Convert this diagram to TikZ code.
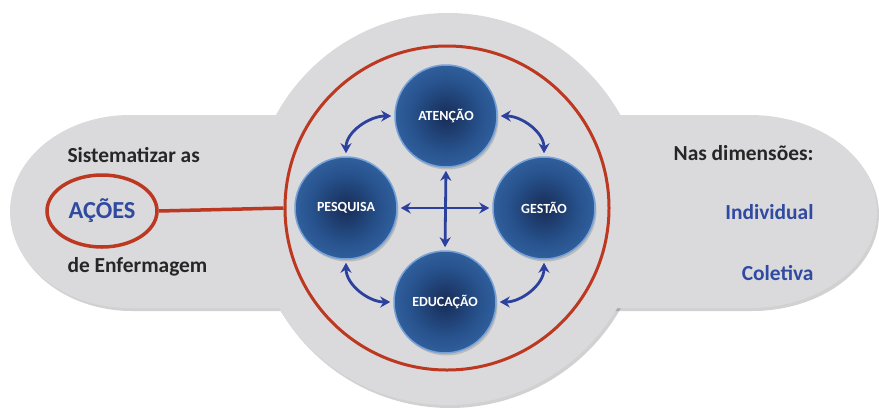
\documentclass[tikz,border=0pt]{standalone}
\usepackage{fontspec}
\setmainfont{Carlito}
\usetikzlibrary{arrows.meta,shadows,shapes.geometric}
\definecolor{panelgray}{RGB}{218,218,220}
\definecolor{ringred}{RGB}{188,56,32}
\definecolor{arrowblue}{RGB}{44,64,158}
\definecolor{labelblue}{RGB}{47,74,160}
\definecolor{orbdark}{RGB}{24,44,86}
\definecolor{orbmid}{RGB}{38,80,138}
\definecolor{orbedge}{RGB}{64,120,188}
\definecolor{orbrim}{RGB}{118,162,216}
\pgfdeclareradialshading{orb}{\pgfpoint{0bp}{0bp}}{color(0bp)=(orbdark); color(16bp)=(orbmid); color(40bp)=(orbedge); color(50bp)=(orbedge)}

\begin{document}
\begin{tikzpicture}[x=1bp,y=1bp,>={Stealth[length=10bp,width=11bp]},
    orb/.style={circle,inner sep=0pt,minimum size=102bp,shading=orb,draw=orbrim,
      line width=1.5bp,text=white,font=\bfseries\fontsize{14}{16}\selectfont,
      drop shadow={opacity=0.35,shadow xshift=1.5bp,shadow yshift=-2.5bp}},
    link/.style={<->,arrowblue,line width=2.8bp,shorten >=3bp,shorten <=3bp},
    say/.style={font=\bfseries\fontsize{21.5}{25}\selectfont,text=black!85}]
  \useasboundingbox (0,0) rectangle (879,-407);
  % grey panel: long capsule and the round middle
  \begin{scope}[shift={(2,-3)}]
    \fill[black,opacity=0.18] (130,-115) -- (750,-115)
      arc[start angle=90,end angle=-90,x radius=127,y radius=96.5]
      -- (130,-308) arc[start angle=270,end angle=90,x radius=120,y radius=96.5] -- cycle;
    \fill[black,opacity=0.18] (448,-209) circle (196);
  \end{scope}
  \fill[panelgray] (130,-115) -- (750,-115)
    arc[start angle=90,end angle=-90,x radius=127,y radius=96.5]
    -- (130,-308) arc[start angle=270,end angle=90,x radius=120,y radius=96.5] -- cycle;
  \fill[panelgray] (448,-209) circle (196);

  \node[circle,draw=ringred,line width=3bp,minimum size=324bp] (ring) at (447,-208) {};

  % the four areas
  \node[orb] (aten) at (446,-116) {ATENÇÃO};
  \node[orb] (pesq) at (346,-208) {PESQUISA};
  \node[orb] (gest) at (544,-208) {GESTÃO};
  \node[orb] (educ) at (445,-302) {EDUCAÇÃO};

  \draw[link] (pesq.east) -- (gest.west);
  \draw[link] (aten.south) -- (educ.north);
  \draw[link] (pesq.north) to[out=90,in=180] (aten.west);
  \draw[link] (aten.east) to[out=0,in=90] (gest.north);
  \draw[link] (pesq.south) to[out=-90,in=180] (educ.west);
  \draw[link] (gest.south) to[out=-90,in=0] (educ.east);

  % left side
  \node[say,anchor=west] (sist) at (64,-155) {Sistematizar as};
  \node[ellipse,draw=ringred,line width=3.5bp,minimum width=110bp,minimum height=72bp,
        font=\bfseries\fontsize{24.5}{28}\selectfont,text=labelblue] (acoes) at (102,-211) {AÇÕES};
  \node[say,anchor=west] (enf) at (64,-267) {de Enfermagem};
  \draw[ringred,line width=3.5bp] (acoes.east) -- (ring.west);

  % right side
  \node[say,anchor=east] (dim) at (817,-153) {Nas dimensões:};
  \node[say,anchor=east,text=labelblue] (indiv) at (817,-212) {Individual};
  \node[say,anchor=east,text=labelblue] (colet) at (817,-273) {Coletiva};
\end{tikzpicture}
\end{document}
